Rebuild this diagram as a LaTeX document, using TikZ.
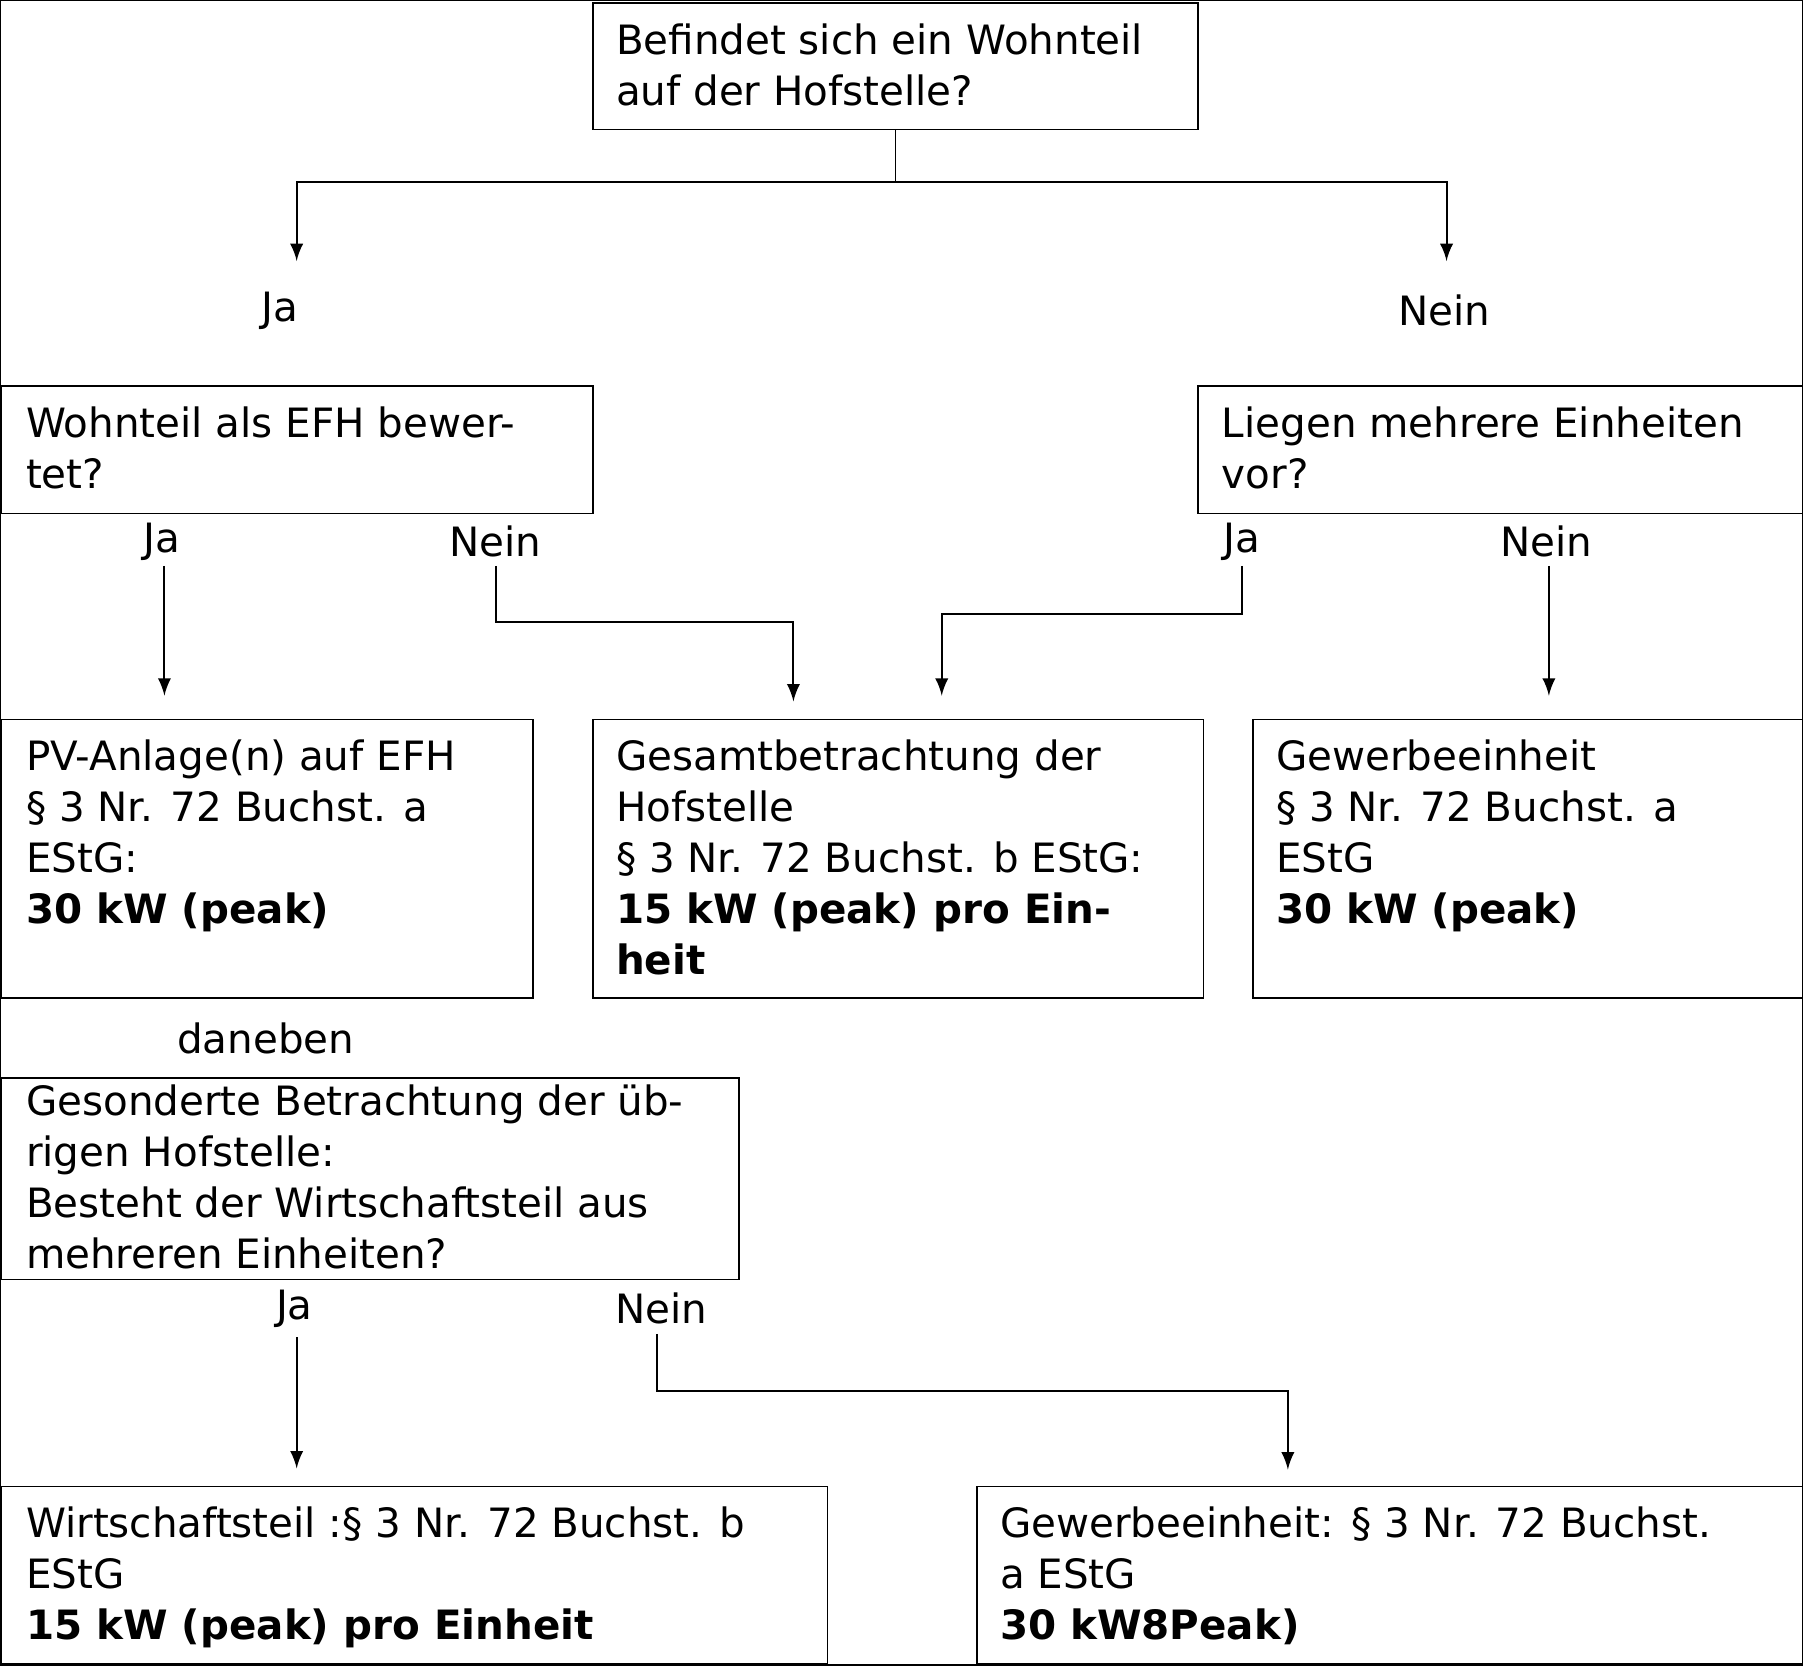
\documentclass[tikz,border=0pt]{standalone}
\usepackage{fontspec}
\setmainfont{DejaVu Sans}
\usetikzlibrary{positioning}
\begin{document}
\begin{tikzpicture}[
		x=1cm, y=1cm,
		box/.style = {draw, anchor=north west, inner sep=0pt},
		txt/.style = {anchor=north west, align=left, inner sep=0pt,
			font=\fontsize{10}{12.6}\selectfont},
		lbl/.style = {font=\fontsize{10}{12.6}\selectfont, inner sep=0pt},
		arr/.style = {-latex, line width=0.5pt}
	]
	\useasboundingbox (0,0) rectangle (15.68,-14.48);
	\draw (0,0) rectangle (15.68,-14.48);
	% boxes
	\node[box, minimum width=5.26cm, minimum height=1.10cm] (q1) at (5.15,-0.02) {};
	\node[box, minimum width=5.15cm, minimum height=1.11cm] (efh) at (0,-3.35) {};
	\node[box, minimum width=5.27cm, minimum height=1.11cm] (meh) at (10.41,-3.35) {};
	\node[box, minimum width=4.63cm, minimum height=2.42cm] (pv) at (0,-6.25) {};
	\node[box, minimum width=5.31cm, minimum height=2.42cm] (ges) at (5.15,-6.25) {};
	\node[box, minimum width=4.79cm, minimum height=2.42cm] (gew) at (10.89,-6.25) {};
	\node[box, minimum width=6.42cm, minimum height=1.75cm] (gso) at (0,-9.37) {};
	\node[box, minimum width=7.19cm, minimum height=1.54cm] (wir) at (0,-12.92) {};
	\node[box, minimum width=7.19cm, minimum height=1.54cm] (gew2) at (8.49,-12.92) {};
	% texts
	\node[txt] at (5.35,-0.20) {Befindet sich ein Wohnteil\\auf der Hofstelle?};
	\node[txt] at (0.22,-3.53) {Wohnteil als EFH bewer-\\tet?};
	\node[txt] at (10.62,-3.53) {Liegen mehrere Einheiten\\vor?};
	\node[txt] at (0.22,-6.43) {PV-Anlage(n) auf EFH\\\S\ 3 Nr. 72 Buchst. a\\EStG:\\\textbf{30 kW (peak)}};
	\node[txt] at (5.35,-6.43) {Gesamtbetrachtung der\\Hofstelle\\\S\ 3 Nr. 72 Buchst. b EStG:\\\textbf{15 kW (peak) pro Ein-}\\\textbf{heit}};
	\node[txt] at (11.09,-6.43) {Gewerbeeinheit\\\S\ 3 Nr. 72 Buchst. a\\EStG\\\textbf{30 kW (peak)}};
	\node[txt] at (0.22,-9.43) {Gesonderte Betrachtung der üb-\\rigen Hofstelle:\\Besteht der Wirtschaftsteil aus\\mehreren Einheiten?};
	\node[txt] at (0.22,-13.10) {Wirtschaftsteil :\S\ 3 Nr. 72 Buchst. b\\EStG\\\textbf{15 kW (peak) pro Einheit}};
	\node[txt] at (8.69,-13.10) {Gewerbeeinheit: \S\ 3 Nr. 72 Buchst.\\a EStG\\\textbf{30 kW8Peak)}};
	% labels
	\node[lbl] (ja1) at (2.43,-2.70) {Ja};
	\node[lbl] (nein1) at (12.56,-2.70) {Nein};
	\node[lbl] (ja2) at (1.41,-4.71) {Ja};
	\node[lbl] (nein2) at (4.31,-4.71) {Nein};
	\node[lbl] (ja3) at (10.80,-4.71) {Ja};
	\node[lbl] (nein3) at (13.45,-4.71) {Nein};
	\node[lbl] (dan) at (2.31,-9.03) {daneben};
	\node[lbl] (ja4) at (2.56,-11.38) {Ja};
	\node[lbl] (nein4) at (5.75,-11.38) {Nein};
	% connector ends
	\coordinate (e1) at (2.58,-2.27);
	\coordinate (e2) at (12.58,-2.27);
	\coordinate (e3) at (1.43,-6.05);
	\coordinate (e4) at (6.90,-6.10);
	\coordinate (e5) at (8.19,-6.05);
	\coordinate (e6) at (13.47,-6.05);
	\coordinate (e7) at (2.58,-12.77);
	\coordinate (e8) at (11.20,-12.78);
	% connectors
	\draw (q1.south) -- ++(0,-0.45) coordinate (q1s);
	\draw[arr] (q1s) -| (e1);
	\draw[arr] (q1s) -| (e2);
	\draw[arr] (1.43,-4.92) -- (e3);
	\draw[arr] (4.31,-4.92) |- (5.5,-5.41) -| (e4);
	\draw[arr] (10.80,-4.92) |- (9.5,-5.34) -| (e5);
	\draw[arr] (13.47,-4.92) -- (e6);
	\draw[arr] (2.58,-11.63) -- (e7);
	\draw[arr] (5.71,-11.60) |- (9,-12.10) -| (e8);
\end{tikzpicture}
\end{document}
